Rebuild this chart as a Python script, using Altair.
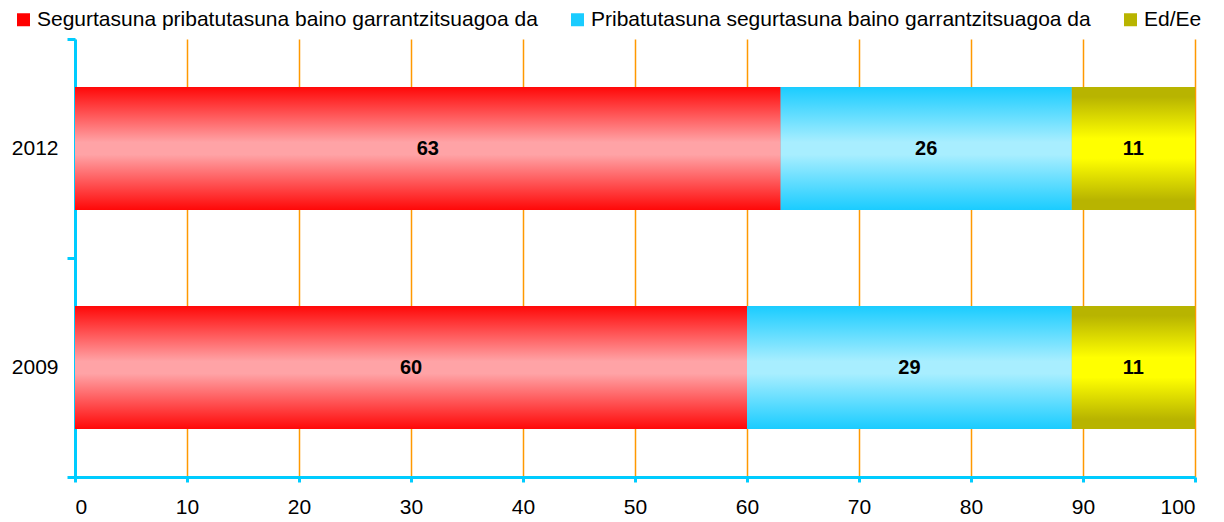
import altair as alt
import pandas as pd

years = ["2012", "2009"]
series = [
    "Segurtasuna pribatutasuna baino garrantzitsuagoa da",
    "Pribatutasuna segurtasuna baino garrantzitsuagoa da",
    "Ed/Ee",
]
vals_s1 = [63, 60]
vals_s2 = [26, 29]
vals_s3 = [11, 11]
x_ticks = [0, 10, 20, 30, 40, 50, 60, 70, 80, 90, 100]

legend_colors = ["#FF0000", "#1ACCFF", "#B8B400"]
grad_stops = [
    [("#FF0808", 0.0), ("#FFA3A6", 0.45), ("#FFA3A6", 0.55), ("#FF0808", 1.0)],
    [("#1ACCFF", 0.0), ("#A8EEFF", 0.45), ("#A8EEFF", 0.55), ("#1ACCFF", 1.0)],
    [("#B8B400", 0.0), ("#B8B400", 0.08), ("#FFFF00", 0.42), ("#FFFF00", 0.58),
     ("#B8B400", 0.92), ("#B8B400", 1.0)],
]

rows = []
for i, y in enumerate(years):
    start = 0
    for s, vals in zip(series, [vals_s1, vals_s2, vals_s3]):
        v = vals[i]
        rows.append({"year": y, "series": s, "value": v, "start": start,
                     "end": start + v, "mid": start + v / 2})
        start += v
df = pd.DataFrame(rows)

FONT = "Liberation Sans"
BAR_H = alt.RelativeBandSize(band=0.5616)

xenc = alt.X("start:Q", scale=alt.Scale(domain=[0, 100], nice=False),
             axis=alt.Axis(values=x_ticks, title=None, grid=True, gridColor="#FF9900",
                           gridWidth=1.5, domainColor="#00CCFF", domainWidth=3,
                           tickColor="#00CCFF", tickWidth=3, tickSize=5,
                           labelFontSize=21, labelFont=FONT, labelColor="#000000",
                           labelPadding=14))
yenc = alt.Y("year:N", sort=years,
             scale=alt.Scale(paddingInner=0, paddingOuter=0),
             axis=alt.Axis(title=None, domainColor="#00CCFF", domainWidth=3,
                           tickColor="#00CCFF", tickWidth=3, tickSize=8,
                           tickBand="extent", labelFontSize=21, labelFont=FONT,
                           labelColor="#000000", labelPadding=9, grid=False))

base = alt.Chart(df).mark_bar(height=BAR_H).encode(
    x=xenc, x2="end:Q", y=yenc,
    color=alt.Color("series:N", sort=series,
                    scale=alt.Scale(domain=series, range=legend_colors),
                    legend=alt.Legend(title=None, orient="none", legendX=-62, legendY=-30,
                                      direction="horizontal", symbolType="square",
                                      symbolSize=169, symbolStrokeWidth=0,
                                      labelFontSize=21, labelFont=FONT, labelColor="#000000",
                                      labelLimit=0, columnPadding=29, labelOffset=3)),
)

layers = [base]
for s, stops in zip(series, grad_stops):
    g = alt.Gradient(gradient="linear",
                     stops=[alt.GradientStop(color=c, offset=o) for c, o in stops],
                     x1=0, x2=0, y1=0, y2=1)
    layers.append(
        alt.Chart(df).transform_filter(alt.datum.series == s)
        .mark_bar(fill=g, stroke=None, height=BAR_H)
        .encode(x="start:Q", x2="end:Q", y=alt.Y("year:N", sort=years))
    )

text = alt.Chart(df).mark_text(font=FONT, fontSize=20, fontWeight="bold", color="#000000").encode(
    x="mid:Q", y=alt.Y("year:N", sort=years), text="value:Q")
layers.append(text)

chart = alt.layer(*layers).properties(
    width=1120, height=438,
    autosize=alt.AutoSizeParams(type="none"),
    padding={"left": 67, "top": 31, "right": 21, "bottom": 45},
).configure_view(stroke=None)

chart.save("out.html", embed_options={"renderer": "svg", "actions": False})
